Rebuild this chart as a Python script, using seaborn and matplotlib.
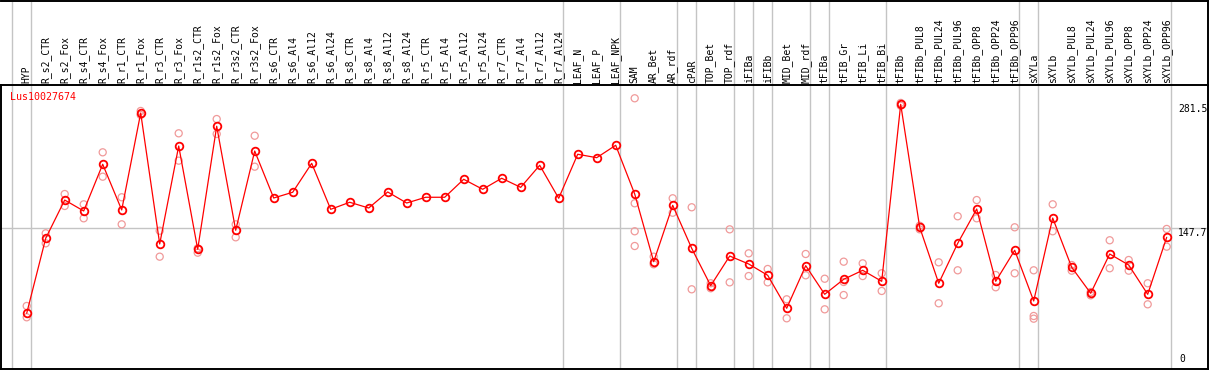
import numpy as np
import pandas as pd
import matplotlib
matplotlib.use("Agg")
import matplotlib.pyplot as plt
import matplotlib.transforms as mtransforms
import seaborn as sns

samples = ["HYP", "R_s2_CTR", "R_s2_Fox", "R_s4_CTR", "R_s4_Fox", "R_r1_CTR", "R_r1_Fox",
           "R_r3_CTR", "R_r3_Fox", "R_r1s2_CTR", "R_r1s2_Fox", "R_r3s2_CTR", "R_r3s2_Fox",
           "R_s6_CTR", "R_s6_Al4", "R_s6_Al12", "R_s6_Al24", "R_s8_CTR", "R_s8_Al4",
           "R_s8_Al12", "R_s8_Al24", "R_r5_CTR", "R_r5_Al4", "R_r5_Al12", "R_r5_Al24",
           "R_r7_CTR", "R_r7_Al4", "R_r7_Al12", "R_r7_Al24", "LEAF_N", "LEAF_P", "LEAF_NPK",
           "SAM", "AR_Bet", "AR_rdf", "cPAR", "TOP_Bet", "TOP_rdf", "iFIBa", "iFIBb",
           "MID_Bet", "MID_rdf", "tFIBa", "tFIB_Gr", "tFIB_Li", "tFIB_Bi", "tFIBb",
           "tFIBb_PUL8", "tFIBb_PUL24", "tFIBb_PUL96", "tFIBb_OPP8", "tFIBb_OPP24",
           "tFIBb_OPP96", "sXYLa", "sXYLb", "sXYLb_PUL8", "sXYLb_PUL24", "sXYLb_PUL96",
           "sXYLb_OPP8", "sXYLb_OPP24", "sXYLb_OPP96"]

means = [56.0, 136.9, 178.2, 166.4, 216.8, 167.5, 272.1, 130.8, 236.5, 125.1, 257.8,
         145.6, 231.1, 180.4, 186.6, 217.8, 168.2, 175.8, 169.6, 186.9, 175.0, 181.2,
         181.2, 200.6, 189.8, 201.7, 191.9, 215.7, 180.1, 227.6, 223.9, 237.3, 184.7,
         111.7, 172.5, 126.1, 85.8, 117.8, 109.2, 97.0, 61.4, 107.4, 76.5, 92.7, 102.4,
         90.5, 281.5, 148.8, 88.4, 131.5, 168.5, 90.5, 124.0, 69.3, 158.8, 105.6, 77.6,
         120.0, 108.1, 76.5, 138.0]

replicates = [[63.9, 51.7], [142.3, 131.5], [184.7, 171.8], [173.6, 158.5], [229.7, 203.4],
              [181.2, 152.0], [274.3, 270.0], [145.1, 117.1], [250.2, 220.7], [126.1, 121.4],
              [265.6, 249.5], [152.0, 138.0], [247.6, 214.2],
              [], [], [], [], [], [], [], [], [], [], [], [], [], [], [], [], [], [], [],
              [288.0, 174.7, 144.5, 128.6], [117.1, 108.9], [180.1, 164.5], [170.4, 81.9],
              [88.4, 83.0], [146.6, 89.4], [120.7, 96.2], [103.8, 89.4], [71.1, 50.6],
              [120.0, 97.0], [93.3, 60.3], [111.7, 89.8, 75.7], [109.9, 96.2], [99.2, 80.1],
              [283.0, 280.0], [150.5, 146.6], [111.0, 66.8], [160.7, 102.4], [178.2, 158.5],
              [97.3, 84.1], [148.8, 99.2], [102.4, 53.1, 50.2], [173.6, 144.5], [108.1, 102.0],
              [79.0, 75.4], [134.8, 104.6], [113.5, 102.0], [88.4, 65.7], [147.0, 127.9]]

group_ends = [-1, 0, 28, 31, 34, 35, 37, 38, 39, 41, 42, 45, 52, 53, 60]
ref_values = [281.5, 147.7, 0]
gene = "Lus10027674"

mean_df = pd.DataFrame({"idx": np.arange(len(samples)), "value": means})
rep_rows = [(i, v) for i, reps in enumerate(replicates) for v in reps]
rep_df = pd.DataFrame(rep_rows, columns=["idx", "value"])

sns.set_style("white")
plt.rcParams["font.family"] = ["DejaVu Sans Mono", "DejaVu Sans"]

W, H = 1209, 370
fig = plt.figure(figsize=(W / 100, H / 100), dpi=100)

x_left, x_right = 1, 1208
plot_top, plot_bot = 85, 369
xmin = (x_left - 26.7) / 19.0
xmax = (x_right - 26.7) / 19.0
k = 0.9268
y0 = 365.2
ymin = (y0 - plot_bot) / k
ymax = (y0 - plot_top) / k

ax = fig.add_axes([x_left / W, (H - plot_bot) / H, (x_right - x_left) / W, (plot_bot - plot_top) / H])
axh = fig.add_axes([x_left / W, (H - plot_top) / H, (x_right - x_left) / W, (plot_top - 0.5) / H])

for a in (ax, axh):
    a.set_xlim(xmin, xmax)
    a.set_xticks([])
    a.set_yticks([])
    a.set_xlabel("")
    a.set_ylabel("")
    for s in a.spines.values():
        s.set_color("black")
        s.set_linewidth(1.4)

ax.set_ylim(ymin, ymax)
ax.spines["top"].set_visible(False)
axh.set_ylim(0, 1)
axh.spines["left"].set_visible(False)
axh.patch.set_visible(False)

grid_c = "#C4C4C4"
for g in group_ends:
    ax.axvline(g + 0.2, color=grid_c, lw=1.0, zorder=0)
    axh.axvline(g + 0.2, color=grid_c, lw=1.0, zorder=0)
ax.axhline(ref_values[1], color=grid_c, lw=1.0, zorder=0)

sns.scatterplot(data=rep_df, x="idx", y="value", ax=ax, marker="o", s=26,
                facecolor="none", edgecolor="#F09A9A", linewidth=0.9, zorder=2, legend=False)
sns.lineplot(data=mean_df, x="idx", y="value", ax=ax, color="#FF0000", lw=0.9,
             estimator=None, marker="o", markersize=5.5, markerfacecolor="none",
             markeredgecolor="#FF0000", markeredgewidth=1.3, zorder=3, legend=False)
ax.set_xlabel("")
ax.set_ylabel("")
ax.set_xlim(xmin, xmax)
ax.set_ylim(ymin, ymax)

trans_h = mtransforms.blended_transform_factory(axh.transData, axh.transAxes)
for i, lab in enumerate(samples):
    axh.text(i, 2.0 / (plot_top - 0.5), lab, rotation=90, ha="center", va="bottom",
             fontsize=7, color="black", transform=trans_h)

ax.text((10 - x_left) / (x_right - x_left), (plot_bot - 97) / (plot_bot - plot_top), gene,
        transform=ax.transAxes, color="#FF0000", fontsize=7.2, ha="left", va="center")

xr = (1178 - 26.7) / 19.0
ax.text(xr, ref_values[0], "281.5", fontsize=7, ha="left", va="top", color="black")
ax.text(xr, ref_values[1], "147.7", fontsize=7, ha="left", va="top", color="black")
ax.text(xr + 0.05, ref_values[2] + 1, "0", fontsize=7, ha="left", va="bottom", color="black")

fig.savefig("out.png", dpi=100)
